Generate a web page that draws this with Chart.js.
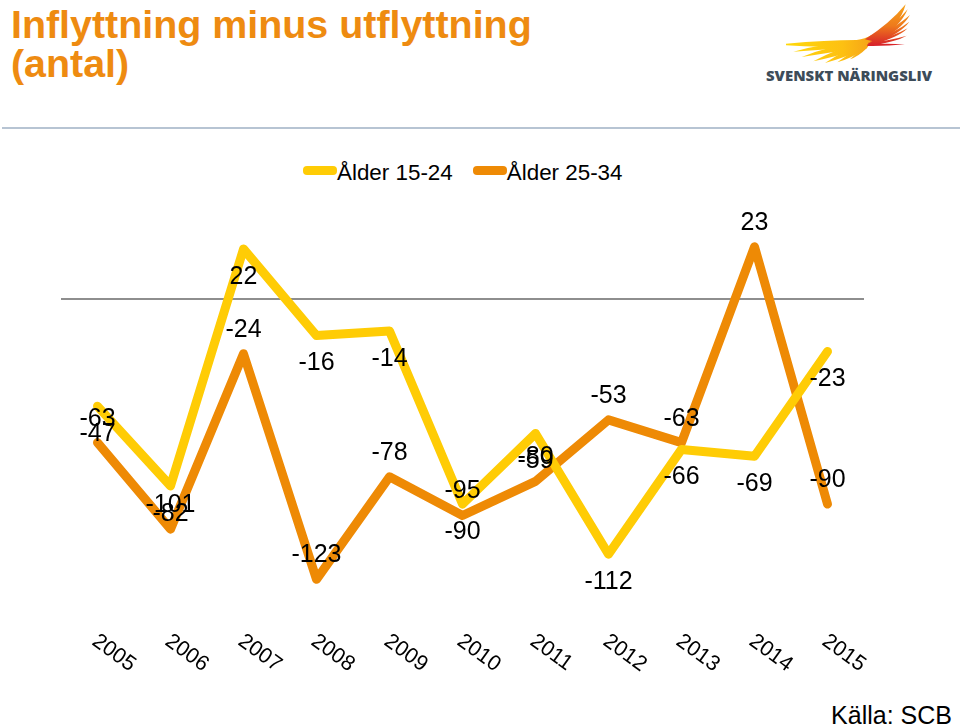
<!DOCTYPE html>
<html lang="sv">
<head>
    <meta charset="UTF-8">
    <title>Inflyttning minus utflyttning</title>
    <script src="https://cdn.jsdelivr.net/npm/chart.js@4/dist/chart.umd.min.js"></script>
    <style>
        html, body { margin: 0; padding: 0; background: #fff; }
        body { width: 960px; height: 725px; position: relative; overflow: hidden; font-family: "Liberation Sans", Arial, sans-serif; }
        #titel { position: absolute; left: 11px; top: 5px; font-size: 39.4px; line-height: 39px; font-weight: bold; color: #ee8b11; }
        #logo { position: absolute; left: 740px; top: 0; }
        #linje { position: absolute; left: 2px; right: 0; top: 127px; height: 2px; background: #b7c4d3; }
        #legend { position: absolute; top: 160px; left: 303px; font-size: 22.4px; line-height: 26px; color: #000; white-space: nowrap; }
        #legend span.rad { display: inline-block; width: 34px; height: 9px; border-radius: 4px; vertical-align: 5px; }
        #legend span.namn { margin-right: 20px; }
        #kalla { position: absolute; right: 8px; top: 700px; font-size: 25px; line-height: 30px; color: #000; }
        #myChart { position: absolute; left: 0; top: 0; }
    </style>
</head>
<body>
    <div id="titel">Inflyttning minus utflyttning<br>(antal)</div>
    <svg id="logo" width="220" height="135" viewBox="0 0 660 405">
        <defs>
            <linearGradient id="vinge" x1="140" y1="0" x2="420" y2="0" gradientUnits="userSpaceOnUse">
                <stop offset="0" stop-color="#ffd80a"/>
                <stop offset="0.6" stop-color="#fdc012"/>
                <stop offset="1" stop-color="#f39a1a"/>
            </linearGradient>
            <linearGradient id="hoger" x1="0" y1="20" x2="0" y2="135" gradientUnits="userSpaceOnUse">
                <stop offset="0" stop-color="#f6a01a"/>
                <stop offset="0.5" stop-color="#ee7a1c"/>
                <stop offset="1" stop-color="#d8232a"/>
            </linearGradient>
        </defs>
        <g fill="url(#vinge)">
            <path d="M138 131 Q260 120 350 120 Q375 117 395 105 L405 125 Q350 140 250 140 Q190 140 138 136Z"/>
            <path d="M160 155 Q250 130 330 130 L335 140 Q240 150 160 155Z"/>
            <path d="M185 171 Q270 137 350 130 L350 145 Q260 160 185 171Z"/>
            <path d="M220 184 Q290 145 370 125 L365 145 Q290 170 220 184Z"/>
            <path d="M255 189 Q320 145 385 122 L375 145 Q310 175 255 189Z"/>
            <path d="M292 187 Q340 150 395 120 L380 145 Q335 175 292 187Z"/>
            <path d="M330 178 Q365 145 400 118 L380 145 Q355 170 330 178Z"/>
        </g>
        <g fill="url(#hoger)">
            <path d="M375 118 Q450 70 497 13 Q480 78 405 125Z"/>
            <path d="M400 110 Q465 75 503 28 Q480 82 410 122Z"/>
            <path d="M400 116 Q470 80 510 45 Q485 88 410 127Z"/>
            <path d="M395 122 Q470 95 508 65 Q485 98 405 132Z"/>
            <path d="M390 125 Q460 110 503 85 Q475 113 395 134Z"/>
            <path d="M385 128 Q450 122 500 107 Q465 127 385 137Z"/>
            <path d="M382 133 Q440 130 495 133 Q440 139 382 138Z"/>
        </g>
        <text x="78" y="243" textLength="498" lengthAdjust="spacingAndGlyphs" font-family="Open Sans" font-weight="800" font-size="41" fill="#3d4c59">SVENSKT NÄRINGSLIV</text>
    </svg>
    <div id="linje"></div>
    <div id="legend"></div>
    <div id="kalla">Källa: SCB</div>
    <canvas id="myChart" width="960" height="725"></canvas>

    <script>
        const ar = ['2005', '2006', '2007', '2008', '2009', '2010', '2011', '2012', '2013', '2014', '2015'];
        const alder1524 = [-47, -82, 22, -16, -14, -90, -59, -112, -66, -69, -23];
        const alder2534 = [-63, -101, -24, -123, -78, -95, -80, -53, -63, 23, -90];
        const namn1524 = 'Ålder 15-24';
        const namn2534 = 'Ålder 25-34';
        const gul = '#ffcc05';
        const orange = '#ee8a05';

        // legenden ligger utanfor canvas, texten ska sitta direkt mot linjen
        document.getElementById('legend').innerHTML =
            '<span class="rad" style="background:' + gul + '"></span><span class="namn">' + namn1524 + '</span>' +
            '<span class="rad" style="background:' + orange + '"></span><span>' + namn2534 + '</span>';

        // skriver vardet under (gul) eller over (orange) punkten
        const etiketter = {
            id: 'etiketter',
            afterDatasetsDraw(chart) {
                const ctx = chart.ctx;
                ctx.save();
                ctx.font = '25px "Liberation Sans"';
                ctx.fillStyle = '#000';
                ctx.textAlign = 'center';
                ctx.textBaseline = 'middle';
                chart.data.datasets.forEach((ds, i) => {
                    chart.getDatasetMeta(i).data.forEach((p, j) => {
                        ctx.fillText(ds.data[j], p.x, p.y + ds.etikettLage);
                    });
                });
                ctx.restore();
            }
        };

        // artalen lutar nedat at hoger, det klarar inte axelns egna etiketter
        const artal = {
            id: 'artal',
            afterDraw(chart) {
                const ctx = chart.ctx;
                const x = chart.scales.x;
                ctx.save();
                ctx.font = '21.5px "Liberation Sans"';
                ctx.fillStyle = '#000';
                ctx.textAlign = 'left';
                ctx.textBaseline = 'middle';
                ar.forEach((txt, i) => {
                    ctx.save();
                    ctx.translate(x.getPixelForValue(i) - 3, x.top + 21);
                    ctx.rotate(36 * Math.PI / 180);
                    ctx.fillText(txt, 0, 0);
                    ctx.restore();
                });
                ctx.restore();
            }
        };

        new Chart(document.getElementById('myChart'), {
            type: 'line',
            data: {
                labels: ar,
                datasets: [
                    { label: namn1524, data: alder1524, borderColor: gul, etikettLage: 28 },
                    { label: namn2534, data: alder2534, borderColor: orange, etikettLage: -24 }
                ]
            },
            options: {
                responsive: false,
                animation: false,
                layout: { padding: { left: 61, right: 96, top: 208, bottom: 0 } },
                elements: {
                    line: { borderWidth: 9, tension: 0, borderJoinStyle: 'round', borderCapStyle: 'round', fill: false },
                    point: { radius: 0 }
                },
                plugins: { legend: { display: false }, title: { display: false }, tooltip: { enabled: false } },
                scales: {
                    x: {
                        offset: true,
                        grid: { display: false },
                        border: { display: false },
                        afterFit: s => { s.height = 107; },
                        ticks: { display: false }
                    },
                    y: {
                        min: -140,
                        max: 40,
                        afterFit: s => { s.width = 0; },
                        border: { display: false },
                        grid: {
                            drawTicks: false,
                            color: c => c.tick.value === 0 ? '#8e8e8e' : 'transparent',
                            lineWidth: 2
                        },
                        ticks: { display: false, stepSize: 20 }
                    }
                }
            },
            plugins: [etiketter, artal]
        });
    </script>
</body>
</html>
